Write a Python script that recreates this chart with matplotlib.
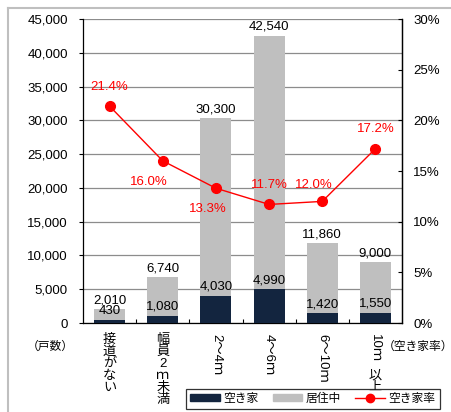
import matplotlib
matplotlib.use("Agg")
import matplotlib.pyplot as plt
from matplotlib.patches import Patch
from matplotlib.lines import Line2D
from matplotlib.ticker import FuncFormatter, MultipleLocator

plt.rcParams["font.family"] = ["Liberation Sans", "Noto Sans CJK JP"]

# data
categories = ["接道がない", "幅員2ｍ未満", "2～4ｍ", "4～6ｍ", "6～10ｍ", "10ｍ以上"]
totals = [2010, 6740, 30300, 42540, 11860, 9000]
vacant = [430, 1080, 4030, 4990, 1420, 1550]
rates = [21.4, 16.0, 13.3, 11.7, 12.0, 17.2]

dark = "#13253F"
gray = "#BFBFBF"
red = "#FF0000"
fs = 9.5

fig = plt.figure(figsize=(4.52, 4.12), dpi=100)
ax = fig.add_axes([83 / 452, 1 - 323 / 412, 319 / 452, 304 / 412])
x = list(range(len(categories)))
residing = [t - v for t, v in zip(totals, vacant)]
bw = 0.58

ax.bar(x, vacant, width=bw, color=dark, zorder=3)
ax.bar(x, residing, width=bw, bottom=vacant, color=gray, zorder=3)

ax.set_ylim(0, 45000)
ax.set_xlim(-0.5, len(categories) - 0.5)
ax.yaxis.set_major_locator(MultipleLocator(5000))
ax.yaxis.set_major_formatter(FuncFormatter(lambda v, p: f"{int(v):,}"))
ax.grid(axis="y", color="#8C8C8C", linewidth=0.9, zorder=0)
ax.set_axisbelow(True)
ax.spines["top"].set_visible(False)
for s in ["left", "bottom", "right"]:
    ax.spines[s].set_color("black")
    ax.spines[s].set_linewidth(0.9)
ax.tick_params(axis="y", direction="out", length=3, labelsize=fs, pad=8)
ax.set_xticks([i + 0.5 for i in range(len(categories) - 1)])
ax.set_xticklabels([])
ax.tick_params(axis="x", direction="in", length=3)

# bar labels
for i in x:
    ax.annotate(f"{totals[i]:,}", (i, totals[i]), xytext=(0, 2), textcoords="offset points",
                ha="center", va="bottom", fontsize=fs, zorder=5)
    ax.annotate(f"{vacant[i]:,}", (i, vacant[i]), xytext=(0, 2), textcoords="offset points",
                ha="center", va="bottom", fontsize=fs, zorder=5)

# rate line
ax2 = ax.twinx()
ax2.set_ylim(0, 30)
ax2.yaxis.set_major_locator(MultipleLocator(5))
ax2.yaxis.set_major_formatter(FuncFormatter(lambda v, p: f"{int(v)}%"))
ax2.tick_params(axis="y", direction="in", length=3, labelsize=fs, pad=8)
for s in ["top", "left", "bottom"]:
    ax2.spines[s].set_visible(False)
ax2.spines["right"].set_linewidth(0.9)
ax2.plot(x, rates, color=red, linewidth=1, marker="o", markersize=7, zorder=6)
offsets = [(0, 14), (-10, -15), (-6, -15), (0, 14), (-6, 12), (0, 14)]
for i, r in enumerate(rates):
    ax2.annotate(f"{r:.1f}%", (i, r), xytext=offsets[i], textcoords="offset points",
                 ha="center", va="center", fontsize=fs, color=red, zorder=7)

# vertical category labels
xt = ax.get_xaxis_transform()
stack_kw = dict(xycoords=xt, textcoords="offset points", ha="center", va="top",
                fontsize=fs, linespacing=1.0)
ax.annotate("\n".join("接道がない"), (0, 0), xytext=(0, -8), **stack_kw)
ax.annotate("\n".join(["幅", "員", "2", "ｍ", "未", "満"]), (1, 0), xytext=(0, -8), **stack_kw)
for i in [2, 3, 4]:
    ax.annotate(categories[i], (i, 0), xytext=(0, -8), rotation=270, **stack_kw)
ax.annotate("10ｍ", (5, 0), xytext=(0, -8), rotation=270, **stack_kw)
ax.annotate("以\n上", (5, 0), xytext=(0, -34), **stack_kw)

fig.text(50 / 452, 1 - 347 / 412, "（戸数）", ha="center", va="center", fontsize=8.5)
fig.text(418 / 452, 1 - 347 / 412, "（空き家率）", ha="center", va="center", fontsize=8.5)

handles = [Patch(color=dark), Patch(color=gray),
           Line2D([], [], color=red, marker="o", markersize=6, linewidth=1)]
leg = fig.legend(handles, ["空き家", "居住中", "空き家率"], ncol=3,
                 loc="center", bbox_to_anchor=(313 / 452, 1 - 399 / 412),
                 fontsize=8.5, frameon=True, fancybox=False, handlelength=2.5,
                 handleheight=0.5, columnspacing=1.2, handletextpad=0.3,
                 borderpad=0.35, borderaxespad=0)
leg.get_frame().set_edgecolor("black")
leg.get_frame().set_linewidth(0.9)

# outer frame
fig.add_artist(Line2D([8 / 452, 1], [1 - 8 / 412, 1 - 8 / 412], transform=fig.transFigure,
                      color="#BFBFBF", linewidth=1.5))
fig.add_artist(Line2D([8 / 452, 8 / 452], [0, 1 - 8 / 412], transform=fig.transFigure,
                      color="#BFBFBF", linewidth=1.5))

fig.savefig("out.png", dpi=100)
